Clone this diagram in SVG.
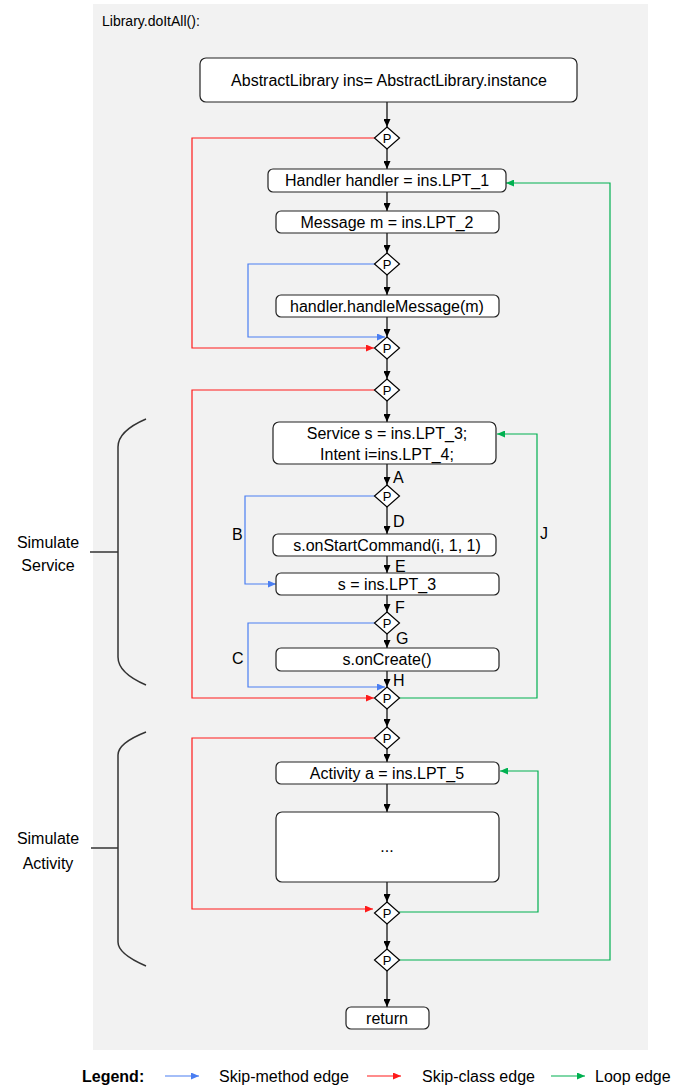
<svg xmlns="http://www.w3.org/2000/svg" width="686" height="1086" viewBox="0 0 686 1086">
<style>
text{font-family:"Liberation Sans",Arial,sans-serif;fill:#000}
.box{fill:#fff;stroke:#222;stroke-width:1.2}
.dia{fill:#fff;stroke:#000;stroke-width:1.2}
.t{font-size:16px;text-anchor:middle}
.p{font-size:13px;text-anchor:middle}
.lab{font-size:16px}
.e{fill:none;stroke:#000;stroke-width:1.2}
.red{fill:none;stroke:#ff1a1a;stroke-width:1.2}
.blue{fill:none;stroke:#4a7ef2;stroke-width:1.2}
.green{fill:none;stroke:#00b050;stroke-width:1.2}
.br{fill:none;stroke:#333;stroke-width:1.5}
</style>
<defs>
<marker id="ak" markerUnits="userSpaceOnUse" markerWidth="8" markerHeight="7" viewBox="0 0 8 7" refX="8" refY="3.5" orient="auto"><path d="M0,0 L8,3.5 L0,7 z" fill="#000"/></marker>
<marker id="ar" markerUnits="userSpaceOnUse" markerWidth="8" markerHeight="7" viewBox="0 0 8 7" refX="8" refY="3.5" orient="auto"><path d="M0,0 L8,3.5 L0,7 z" fill="#ff1a1a"/></marker>
<marker id="ab" markerUnits="userSpaceOnUse" markerWidth="8" markerHeight="7" viewBox="0 0 8 7" refX="8" refY="3.5" orient="auto"><path d="M0,0 L8,3.5 L0,7 z" fill="#4a7ef2"/></marker>
<marker id="ag" markerUnits="userSpaceOnUse" markerWidth="8" markerHeight="7" viewBox="0 0 8 7" refX="8" refY="3.5" orient="auto"><path d="M0,0 L8,3.5 L0,7 z" fill="#00b050"/></marker>
</defs>
<rect x="93" y="4" width="555" height="1046" fill="#f2f2f2"/>
<text x="102" y="26" style="font-size:14px">Library.doItAll():</text>

<g id="connectors">
<path class="e" marker-end="url(#ak)" d="M387,102 V127"/>
<path class="e" marker-end="url(#ak)" d="M387,149 V169"/>
<path class="e" marker-end="url(#ak)" d="M387,192 V211"/>
<path class="e" marker-end="url(#ak)" d="M387,233 V253"/>
<path class="e" marker-end="url(#ak)" d="M387,275 V295"/>
<path class="e" marker-end="url(#ak)" d="M387,317 V337"/>
<path class="e" marker-end="url(#ak)" d="M387,359 V379"/>
<path class="e" marker-end="url(#ak)" d="M387,401 V422"/>
<path class="e" marker-end="url(#ak)" d="M387,464 V485"/>
<path class="e" marker-end="url(#ak)" d="M387,507 V534"/>
<path class="e" marker-end="url(#ak)" d="M387,556 V573"/>
<path class="e" marker-end="url(#ak)" d="M387,595 V612"/>
<path class="e" marker-end="url(#ak)" d="M387,634 V648"/>
<path class="e" marker-end="url(#ak)" d="M387,671 V687"/>
<path class="e" marker-end="url(#ak)" d="M387,709 V727"/>
<path class="e" marker-end="url(#ak)" d="M387,749 V762"/>
<path class="e" marker-end="url(#ak)" d="M387,784 V812"/>
<path class="e" marker-end="url(#ak)" d="M387,882 V902"/>
<path class="e" marker-end="url(#ak)" d="M387,924 V949"/>
<path class="e" marker-end="url(#ak)" d="M387,971 V1007"/>

<path class="red" marker-end="url(#ar)" d="M375,138 H192 V348 H374"/>
<path class="blue" marker-end="url(#ab)" d="M375,264 H248 V337 H385"/>
<path class="red" marker-end="url(#ar)" d="M375,390 H192 V698 H374"/>
<path class="blue" marker-end="url(#ab)" d="M375,496 H245 V584 H276"/>
<path class="blue" marker-end="url(#ab)" d="M375,623 H248 V687 H385"/>
<path class="green" marker-end="url(#ag)" d="M399,698 H537 V434 H497"/>
<path class="red" marker-end="url(#ar)" d="M375,738 H192 V909 H373"/>
<path class="green" marker-end="url(#ag)" d="M399,912 H538 V771 H500"/>
<path class="green" marker-end="url(#ag)" d="M399,960 H610 V183 H506"/>
</g>

<g id="n-init"><rect class="box" x="200" y="58" width="377" height="44" rx="6"/><text class="t" x="389" y="86">AbstractLibrary ins= AbstractLibrary.instance</text></g>
<g id="p1"><path class="dia" d="M387,127 L399.5,138 L387,149 L374.5,138 z"/><text class="p" x="387" y="143">P</text></g>
<g id="n-handler"><rect class="box" x="268" y="169" width="238" height="23" rx="5"/><text class="t" x="387" y="186">Handler handler = ins.LPT_1</text></g>
<g id="n-message"><rect class="box" x="276" y="211" width="223" height="22" rx="5"/><text class="t" x="387" y="228">Message m = ins.LPT_2</text></g>
<g id="p2"><path class="dia" d="M387,253 L399.5,264 L387,275 L374.5,264 z"/><text class="p" x="387" y="269">P</text></g>
<g id="n-handle"><rect class="box" x="276" y="295" width="223" height="22" rx="5"/><text class="t" x="387" y="312">handler.handleMessage(m)</text></g>
<g id="p3"><path class="dia" d="M387,337 L399.5,348 L387,359 L374.5,348 z"/><text class="p" x="387" y="353">P</text></g>
<g id="p4"><path class="dia" d="M387,379 L399.5,390 L387,401 L374.5,390 z"/><text class="p" x="387" y="395">P</text></g>
<g id="n-service"><rect class="box" x="273" y="422" width="223" height="42" rx="6"/><text class="t" x="387" y="439">Service s = ins.LPT_3;</text><text class="t" x="387" y="460">Intent i=ins.LPT_4;</text></g>
<g id="p5"><path class="dia" d="M387,485 L399.5,496 L387,507 L374.5,496 z"/><text class="p" x="387" y="501">P</text></g>
<g id="n-start"><rect class="box" x="273" y="534" width="223" height="22" rx="5"/><text class="t" x="387" y="551">s.onStartCommand(i, 1, 1)</text></g>
<g id="n-sassign"><rect class="box" x="276" y="573" width="223" height="22" rx="5"/><text class="t" x="387" y="590">s = ins.LPT_3</text></g>
<g id="p6"><path class="dia" d="M387,612 L399.5,623 L387,634 L374.5,623 z"/><text class="p" x="387" y="628">P</text></g>
<g id="n-create"><rect class="box" x="276" y="648" width="223" height="23" rx="5"/><text class="t" x="387" y="665">s.onCreate()</text></g>
<g id="p7"><path class="dia" d="M387,687 L399.5,698 L387,709 L374.5,698 z"/><text class="p" x="387" y="703">P</text></g>
<g id="p8"><path class="dia" d="M387,727 L399.5,738 L387,749 L374.5,738 z"/><text class="p" x="387" y="743">P</text></g>
<g id="n-activity"><rect class="box" x="276" y="762" width="223" height="22" rx="5"/><text class="t" x="387" y="779">Activity a = ins.LPT_5</text></g>
<g id="n-dots"><rect class="box" x="276" y="812" width="223" height="70" rx="6"/><text class="t" x="387" y="852">...</text></g>
<g id="p9"><path class="dia" d="M387,902 L399.5,913 L387,924 L374.5,913 z"/><text class="p" x="387" y="918">P</text></g>
<g id="p10"><path class="dia" d="M387,949 L399.5,960 L387,971 L374.5,960 z"/><text class="p" x="387" y="965">P</text></g>
<g id="n-return"><rect class="box" x="346" y="1007" width="83" height="22" rx="5"/><text class="t" x="387" y="1024">return</text></g>

<g id="edge-labels">
<text class="lab" x="393" y="483">A</text>
<text class="lab" x="232" y="540">B</text>
<text class="lab" x="232" y="664">C</text>
<text class="lab" x="393" y="527">D</text>
<text class="lab" x="395" y="572">E</text>
<text class="lab" x="395" y="613">F</text>
<text class="lab" x="396" y="644">G</text>
<text class="lab" x="393" y="686">H</text>
<text class="lab" x="540" y="539">J</text>
</g>

<g id="brace-service">
<path class="br" d="M146,419 Q118,431 118,447 V657 Q118,673 146,685"/>
<path class="br" d="M90,552 H118"/>
<text class="t" x="48" y="548">Simulate</text>
<text class="t" x="48" y="571">Service</text>
</g>
<g id="brace-activity">
<path class="br" d="M146,732 Q118,743 118,755 V942 Q118,954 146,966"/>
<path class="br" d="M91,848 H118"/>
<text class="t" x="48" y="844">Simulate</text>
<text class="t" x="48" y="869">Activity</text>
</g>

<g id="legend">
<text x="82" y="1082" style="font-size:16px;font-weight:bold">Legend:</text>
<path class="blue" marker-end="url(#ab)" d="M165,1076 H199"/>
<text class="lab" x="219" y="1082">Skip-method edge</text>
<path class="red" marker-end="url(#ar)" d="M367,1076 H401"/>
<text class="lab" x="422" y="1082">Skip-class edge</text>
<path class="green" marker-end="url(#ag)" d="M551,1076 H585"/>
<text class="lab" x="595" y="1082">Loop edge</text>
</g>
</svg>
